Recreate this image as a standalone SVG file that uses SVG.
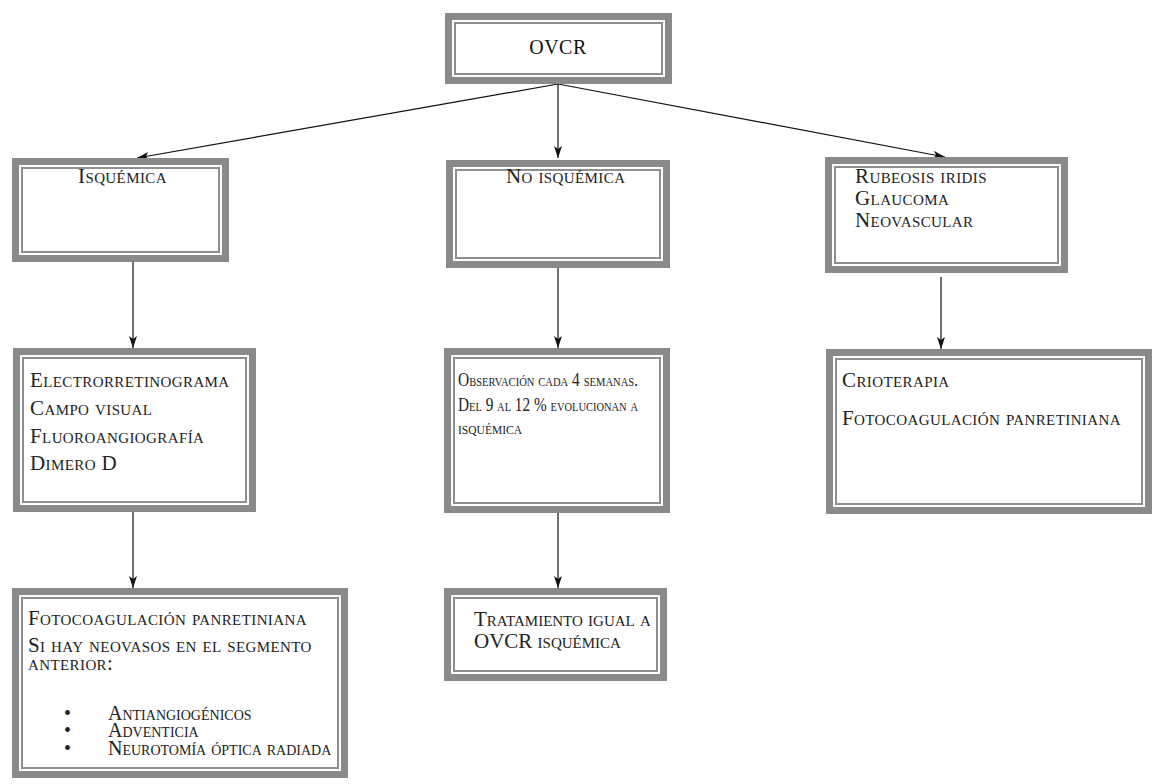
<svg xmlns="http://www.w3.org/2000/svg" width="1152" height="784" viewBox="0 0 1152 784">
<style>
.frame{fill:#8a8a8c}
.inner{fill:#ffffff}
.line{fill:none;stroke:#8f8f91;stroke-width:2}
.t{font-family:"Liberation Serif","Times New Roman",serif;font-size:21px;fill:#222;font-variant:small-caps;letter-spacing:0.4px}
.s{font-size:19px;letter-spacing:0px}
.l{font-size:20px;letter-spacing:0px}
.c{stroke:#111;stroke-width:1.2;fill:none}
</style>
<defs>
<marker id="ah" viewBox="0 0 12 8" refX="12" refY="4" markerWidth="12" markerHeight="8" markerUnits="userSpaceOnUse" orient="auto">
<path d="M0,0 L12,4 L0,8 L3,4 Z" fill="#111"/>
</marker>
</defs>
<rect width="1152" height="784" fill="#ffffff"/>

<g id="connectors">
<line class="c" x1="558" y1="84" x2="137" y2="158" marker-end="url(#ah)"/>
<line class="c" x1="558" y1="84" x2="558" y2="158" marker-end="url(#ah)"/>
<line class="c" x1="558" y1="84" x2="945" y2="157" marker-end="url(#ah)"/>
<line class="c" x1="133" y1="262" x2="133" y2="348" marker-end="url(#ah)"/>
<line class="c" x1="558" y1="268" x2="558" y2="348" marker-end="url(#ah)"/>
<line class="c" x1="941" y1="277" x2="941" y2="349" marker-end="url(#ah)"/>
<line class="c" x1="133" y1="512" x2="133" y2="588" marker-end="url(#ah)"/>
<line class="c" x1="558" y1="513" x2="558" y2="588" marker-end="url(#ah)"/>
</g>

<g id="ovcr">
<rect class="frame" x="445" y="13" width="227" height="71"/>
<rect class="inner" x="452" y="20" width="213" height="57"/>
<rect class="line" x="455" y="23" width="207" height="51"/>
<text class="t" x="558" y="54" text-anchor="middle" style="font-size:20px;letter-spacing:0.5px;fill:#111">OVCR</text>
</g>

<g id="isquemica">
<rect class="frame" x="12" y="158" width="217" height="104"/>
<rect class="inner" x="19" y="165" width="203" height="90"/>
<rect class="line" x="22" y="168" width="197" height="84"/>
<text class="t" x="78" y="183">Isquémica</text>
</g>

<g id="no-isquemica">
<rect class="frame" x="446" y="160" width="224" height="108"/>
<rect class="inner" x="453" y="167" width="210" height="94"/>
<rect class="line" x="456" y="170" width="204" height="88"/>
<text class="t" x="506" y="183">No isquémica</text>
</g>

<g id="rubeosis">
<rect class="frame" x="825" y="157" width="243" height="116"/>
<rect class="inner" x="832" y="164" width="229" height="102"/>
<rect class="line" x="835" y="167" width="223" height="96"/>
<text class="t" x="855" y="183">Rubeosis iridis</text>
<text class="t" x="855" y="205">Glaucoma</text>
<text class="t" x="855" y="227">Neovascular</text>
</g>

<g id="pruebas">
<rect class="frame" x="13" y="348" width="243" height="164"/>
<rect class="inner" x="20" y="355" width="229" height="150"/>
<rect class="line" x="23" y="358" width="223" height="144"/>
<text class="t" x="30" y="387">Electrorretinograma</text>
<text class="t" x="30" y="415">Campo visual</text>
<text class="t" x="30" y="443">Fluoroangiografía</text>
<text class="t" x="30" y="470">Dimero D</text>
</g>

<g id="observacion">
<rect class="frame" x="444" y="348" width="226" height="165"/>
<rect class="inner" x="451" y="355" width="212" height="151"/>
<rect class="line" x="454" y="358" width="206" height="145"/>
<text class="t s" x="458" y="386" textLength="180" lengthAdjust="spacingAndGlyphs">Observación cada 4 semanas.</text>
<text class="t s" x="458" y="411" textLength="180" lengthAdjust="spacingAndGlyphs">Del 9 al 12 % evolucionan a</text>
<text class="t s" x="458" y="434" textLength="64" lengthAdjust="spacingAndGlyphs">isquémica</text>
</g>

<g id="crioterapia">
<rect class="frame" x="826" y="349" width="326" height="165"/>
<rect class="inner" x="833" y="356" width="312" height="151"/>
<rect class="line" x="836" y="359" width="306" height="145"/>
<text class="t" x="842" y="387">Crioterapia</text>
<text class="t" x="842" y="425">Fotocoagulación panretiniana</text>
</g>

<g id="tratamiento-isquemica">
<rect class="frame" x="12" y="588" width="336" height="190"/>
<rect class="inner" x="19" y="595" width="322" height="176"/>
<rect class="line" x="22" y="598" width="316" height="170"/>
<text class="t" x="28" y="625">Fotocoagulación panretiniana</text>
<text class="t" x="28" y="652">Si hay neovasos en el segmento</text>
<text class="t" x="28" y="670">anterior:</text>
<text class="t l" x="64" y="720">•</text>
<text class="t l" x="108" y="720">Antiangiogénicos</text>
<text class="t l" x="64" y="737">•</text>
<text class="t l" x="108" y="737">Adventicia</text>
<text class="t l" x="64" y="755">•</text>
<text class="t l" x="108" y="755">Neurotomía óptica radiada</text>
</g>

<g id="tratamiento-igual">
<rect class="frame" x="444" y="588" width="223" height="93"/>
<rect class="inner" x="451" y="595" width="209" height="79"/>
<rect class="line" x="454" y="598" width="203" height="73"/>
<text class="t" x="474" y="626" style="letter-spacing:0px">Tratamiento igual a</text>
<text class="t" x="474" y="648" style="letter-spacing:0px">OVCR isquémica</text>
</g>
</svg>
